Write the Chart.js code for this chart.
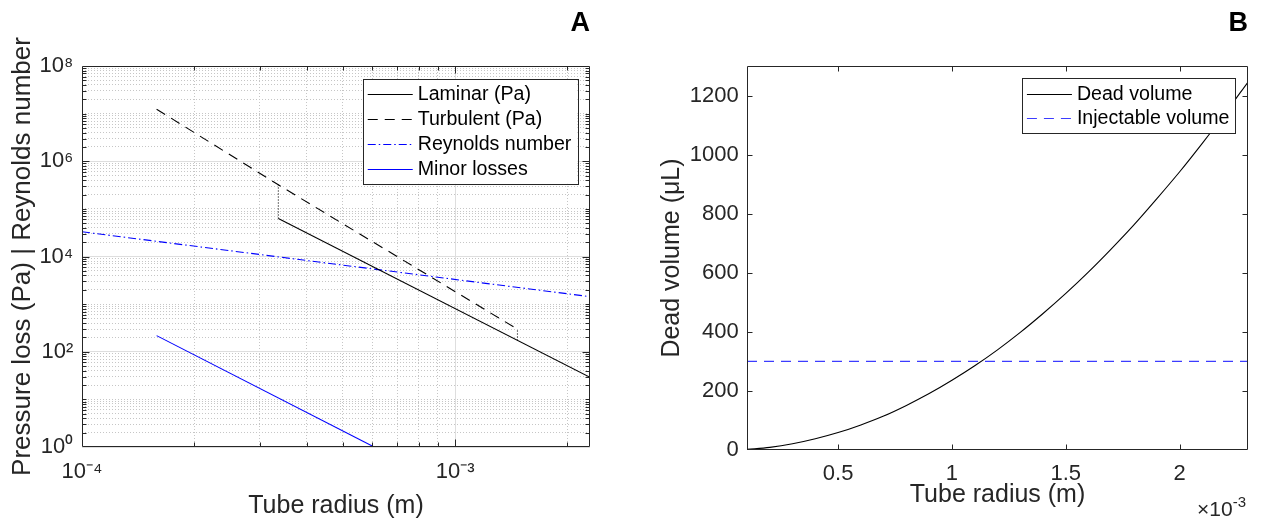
<!DOCTYPE html>
<html><head><meta charset="utf-8">
<script src="https://cdn.jsdelivr.net/npm/chart.js@4.4.1/dist/chart.umd.min.js"></script>
<style>
html,body{margin:0;padding:0;background:#fff;width:1261px;height:521px;overflow:hidden}
#wa{position:absolute;left:0;top:0;width:630px;height:521px}
#wb{position:absolute;left:630px;top:0;width:631px;height:521px}
canvas{display:block}
</style></head><body>
<div id="wa"><canvas id="ca" width="630" height="521"></canvas></div>
<div id="wb"><canvas id="cb" width="631" height="521"></canvas></div>
<script>
// ===== Panel A: pressure loss / Reynolds number vs tube radius (log-log) =====
const laminarRadius = [3.36e-4, 2.3e-3];
const laminarPa = [6.3e4, 29];
const turbulentRadius = [1.585e-4, 3.36e-4, 1.47e-3];
const turbulentPa = [1.24e7, 3.2e5, 297];
const reynoldsRadius = [1e-4, 2.3e-3];
const reynoldsNumber = [3.3e4, 1435];
const minorRadius = [1.585e-4, 6.07e-4];
const minorPa = [218, 1.0];
const transition1Radius = [3.36e-4, 3.36e-4];
const transition1Pa = [6.3e4, 3.2e5];
const transition2Radius = [1.47e-3, 1.47e-3];
const transition2Pa = [172, 297];
const xTickValuesA = [1e-4, 1e-3];
const xTickLabelsA = ['10⁻⁴', '10⁻³'];
const yTickValuesA = [1, 1e2, 1e4, 1e6, 1e8];
const yTickLabelsA = ['10⁰', '10²', '10⁴', '10⁶', '10⁸'];

// ===== Panel B: dead volume vs tube radius =====
const radiusB = [0.0001,0.0002,0.0003,0.0004,0.0005,0.0006,0.0007,0.0008,0.0009,0.0010,0.0011,0.0012,
                 0.0013,0.0014,0.0015,0.0016,0.0017,0.0018,0.0019,0.0020,0.0021,0.0022,0.0023];
const deadVolume = [2,9,21,38,59,85,115,151,191,236,285,339,398,462,530,603,681,763,851,942,1039,1140,1246];
const injectableRadius = [1e-4, 2.3e-3];
const injectableVolume = [300, 300];
const xTickValuesB = [5e-4, 1e-3, 1.5e-3, 2e-3];
const xTickLabelsB = ['0.5', '1', '1.5', '2'];
const yTickValuesB = [0, 200, 400, 600, 800, 1000, 1200];
const yTickLabelsB = ['0', '200', '400', '600', '800', '1000', '1200'];

const FONT = "'Liberation Sans', Arial, Helvetica, sans-serif";
const TXT = '#262626';
const AX = '#262626';
Chart.defaults.font.family = FONT;
Chart.defaults.color = TXT;

const pts = (xs, ys) => xs.map((x, i) => ({x: x, y: ys[i]}));
const near = (a, b) => (b === 0 ? Math.abs(a) < 1e-12 : Math.abs(a / b - 1) < 1e-6);
const isIn = (v, arr) => v !== undefined && arr.some(m => near(v, m));
const labelFor = (v, vals, labs) => { const i = vals.findIndex(m => near(v, m)); return i < 0 ? '' : labs[i]; };

function logGrid(e0, e1, max) {
  const out = [];
  for (let e = e0; e <= e1; e++) for (let m = 1; m <= 9; m++) {
    const v = m * Math.pow(10, e);
    if (v <= max * (1 + 1e-9)) out.push(v);
  }
  return out;
}
const xGridA = logGrid(-4, -3, 2.3e-3);
const yGridA = logGrid(0, 8, 1e8);

function framePlugin(name, xMajor, yMajor, majLen, minLen) {
  return {
    id: 'frame' + name,
    afterDatasetsDraw(chart) {
      const {ctx, chartArea: a, scales: {x, y}} = chart;
      const L = Math.round(a.left) + 0.5, R = Math.round(a.right) - 0.5;
      const T = Math.round(a.top) + 0.5, B = Math.round(a.bottom) - 0.5;
      ctx.save();
      ctx.strokeStyle = AX; ctx.lineWidth = 1; ctx.setLineDash([]);
      ctx.beginPath();
      x.ticks.forEach(t => {
        const p = Math.round(x.getPixelForValue(t.value)) + 0.5;
        if (p <= L + 1 || p >= R - 1) return;
        const len = xMajor(t.value) ? majLen : minLen;
        ctx.moveTo(p, B); ctx.lineTo(p, B - len);
        ctx.moveTo(p, T); ctx.lineTo(p, T + len);
      });
      y.ticks.forEach(t => {
        const p = Math.round(y.getPixelForValue(t.value)) + 0.5;
        if (p <= T + 1 || p >= B - 1) return;
        const len = yMajor(t.value) ? majLen : minLen;
        ctx.moveTo(L, p); ctx.lineTo(L + len, p);
        ctx.moveTo(R, p); ctx.lineTo(R - len, p);
      });
      ctx.stroke();
      ctx.beginPath();
      ctx.rect(L, T, R - L, B - T);
      ctx.stroke();
      ctx.restore();
    }
  };
}

function legendPlugin(name, rightInset, topInset, extra) {
  return {
    id: 'legend' + name,
    afterDraw(chart) {
      const {ctx, chartArea: a} = chart;
      const items = chart.data.datasets.filter(d => d.inLegend !== false);
      ctx.save();
      ctx.font = '19.6px ' + FONT;
      const maxW = Math.max(...items.map(d => ctx.measureText(d.label).width));
      const w = 5 + 45 + 5 + maxW + 6;
      const h = 30.4 + (items.length - 1) * 24.8;
      const right = a.right - rightInset, left = right - w, top = a.top + topInset;
      ctx.fillStyle = '#fff';
      ctx.fillRect(left, top, w, h);
      ctx.strokeStyle = AX; ctx.lineWidth = 1;
      ctx.strokeRect(Math.round(left) + 0.5, Math.round(top) + 0.5, Math.round(w), Math.round(h));
      items.forEach((d, i) => {
        const cy = Math.round(top + 15.3 + i * 24.8) + 0.5;
        ctx.beginPath();
        ctx.setLineDash(d.borderDash || []);
        ctx.strokeStyle = d.borderColor; ctx.lineWidth = d.borderWidth || 1;
        ctx.moveTo(left + 5, cy); ctx.lineTo(left + 50, cy);
        ctx.stroke();
        ctx.setLineDash([]);
        ctx.fillStyle = '#000';
        ctx.textBaseline = 'middle'; ctx.textAlign = 'left';
        ctx.fillText(d.label, left + 55, cy);
      });
      if (extra) extra(ctx, a);
      ctx.restore();
    }
  };
}

const lineDs = (label, xs, ys, color, dash, inLegend) => ({
  label, data: pts(xs, ys), borderColor: color, backgroundColor: color, borderWidth: 1.1,
  borderDash: dash, showLine: true, pointRadius: 0, pointHoverRadius: 0, fill: false,
  inLegend: inLegend
});

// ---------- Chart A ----------
new Chart(document.getElementById('ca'), {
  type: 'scatter',
  data: {datasets: [
    lineDs('Laminar (Pa)', laminarRadius, laminarPa, '#000000', [], true),
    lineDs('Turbulent (Pa)', turbulentRadius, turbulentPa, '#000000', [10, 7], true),
    lineDs('Reynolds number', reynoldsRadius, reynoldsNumber, '#0000ff', [8, 3, 1.5, 3], true),
    lineDs('Minor losses', minorRadius, minorPa, '#0000ff', [], true),
    lineDs('transition 1', transition1Radius, transition1Pa, '#000000', [1, 2], false),
    lineDs('transition 2', transition2Radius, transition2Pa, '#000000', [1, 2], false)
  ]},
  options: {
    responsive: false, animation: false, devicePixelRatio: 1,
    layout: {padding: {left: 0, right: 40, top: 0, bottom: 0}},
    plugins: {
      legend: {display: false}, tooltip: {enabled: false},
      title: {display: true, text: 'A', align: 'end', color: '#000',
              font: {size: 27, weight: 'bold', family: FONT}, padding: {top: 7.5, bottom: 26.1}}
    },
    scales: {
      x: {
        type: 'logarithmic', min: 1e-4, max: 2.3e-3,
        afterBuildTicks: s => { s.ticks = xGridA.map(v => ({value: v})); },
        afterFit: s => { s.height = 74; },
        ticks: {autoSkip: false, maxRotation: 0, minRotation: 0, padding: 12, color: TXT,
                font: {size: 22}, callback: v => labelFor(v, xTickValuesA, xTickLabelsA)},
        grid: {drawTicks: false, lineWidth: 1,
               color: c => isIn(c.tick && c.tick.value, xTickValuesA) ? '#dedede' : '#c6c6c6'},
        border: {display: false, dash: c => (c.tick && !isIn(c.tick.value, xTickValuesA)) ? [1, 2] : []},
        title: {display: true, text: 'Tube radius (m)', color: TXT, font: {size: 25}, padding: {top: 0, bottom: 0}}
      },
      y: {
        type: 'logarithmic', min: 1, max: 1e8,
        afterBuildTicks: s => { s.ticks = yGridA.map(v => ({value: v})); },
        afterFit: s => { s.width = 82; },
        ticks: {autoSkip: false, padding: 8.7, color: TXT, font: {size: 22},
                callback: v => labelFor(v, yTickValuesA, yTickLabelsA)},
        grid: {drawTicks: false, lineWidth: 1,
               color: c => isIn(c.tick && c.tick.value, yTickValuesA) ? '#dedede' : '#c6c6c6'},
        border: {display: false, dash: c => (c.tick && !isIn(c.tick.value, yTickValuesA)) ? [1, 2] : []},
        title: {display: true, text: 'Pressure loss (Pa) | Reynolds number', color: TXT,
                font: {size: 26}, padding: {top: 7.4, bottom: 0}}
      }
    }
  },
  plugins: [
    framePlugin('A', v => isIn(v, xTickValuesA), v => isIn(v, yTickValuesA), 7, 4),
    legendPlugin('A', 12.7, 13)
  ]
});

// ---------- Chart B ----------
new Chart(document.getElementById('cb'), {
  type: 'scatter',
  data: {datasets: [
    Object.assign(lineDs('Dead volume', radiusB, deadVolume, '#000000', [], true), {cubicInterpolationMode: 'monotone'}),
    lineDs('Injectable volume', injectableRadius, injectableVolume, '#3c3cff', [10, 7], true)
  ]},
  options: {
    responsive: false, animation: false, devicePixelRatio: 1,
    layout: {padding: {left: 0, right: 13, top: 0, bottom: 0}},
    plugins: {
      legend: {display: false}, tooltip: {enabled: false},
      title: {display: true, text: 'B', align: 'end', color: '#000',
              font: {size: 27, weight: 'bold', family: FONT}, padding: {top: 7.5, bottom: 26.1}}
    },
    scales: {
      x: {
        type: 'linear', min: 1e-4, max: 2.3e-3,
        afterBuildTicks: s => { s.ticks = xTickValuesB.map(v => ({value: v})); },
        afterFit: s => { s.height = 71; },
        ticks: {autoSkip: false, maxRotation: 0, minRotation: 0, padding: 10.4, color: TXT,
                font: {size: 22}, callback: v => labelFor(v, xTickValuesB, xTickLabelsB)},
        grid: {display: false, drawTicks: false},
        border: {display: false},
        title: {display: true, text: 'Tube radius (m)', color: TXT, font: {size: 25}, padding: {top: 0, bottom: 11}}
      },
      y: {
        type: 'linear', min: 0, max: 1300,
        afterBuildTicks: s => { s.ticks = yTickValuesB.map(v => ({value: v})); },
        afterFit: s => { s.width = 117; },
        ticks: {autoSkip: false, padding: 8.3, color: TXT, font: {size: 22},
                callback: v => labelFor(v, yTickValuesB, yTickLabelsB)},
        grid: {display: false, drawTicks: false},
        border: {display: false},
        title: {display: true, text: 'Dead volume (μL)', color: TXT, font: {size: 25}, padding: {top: 27.5, bottom: 0}}
      }
    }
  },
  plugins: [
    framePlugin('B', () => true, () => true, 5, 5),
    legendPlugin('B', 12.6, 12.3, (ctx, a) => {
      ctx.fillStyle = TXT;
      ctx.textBaseline = 'alphabetic';
      ctx.textAlign = 'right';
      ctx.font = '15px ' + FONT;
      const supW = ctx.measureText('-3').width;
      ctx.fillText('-3', a.right - 2, 507);
      ctx.font = '21px ' + FONT;
      ctx.fillText('×10', a.right - 2 - supW, 516);
    })
  ]
});
</script>
</body></html>
